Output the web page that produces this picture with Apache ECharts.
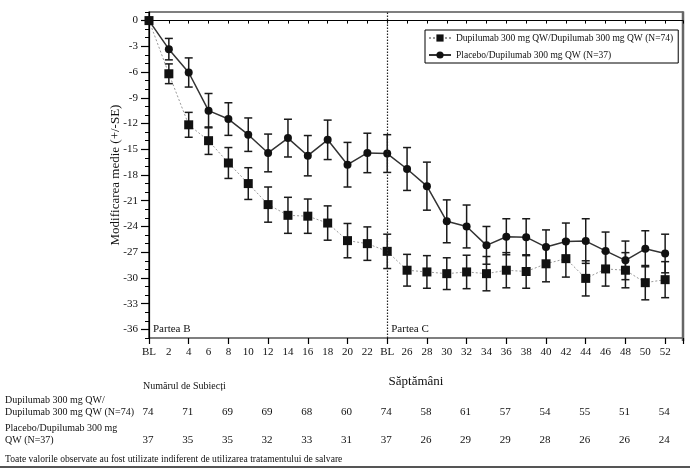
<!DOCTYPE html>
<html>
<head>
<meta charset="utf-8">
<script src="https://cdn.jsdelivr.net/npm/echarts@6/dist/echarts.min.js"></script>
<style>
html,body{margin:0;padding:0;background:#fff;}
#c{width:695px;height:472px;}
</style>
</head>
<body>
<div id="c"></div>
<script>
// ---- data ----
var weekLabels = ['BL','2','4','6','8','10','12','14','16','18','20','22','BL','26','28','30','32','34','36','38','40','42','44','46','48','50','52'];
var yTickLabels = ['0','-3','-6','-9','-12','-15','-18','-21','-24','-27','-30','-33','-36'];
var dupiName = 'Dupilumab 300 mg QW/Dupilumab 300 mg QW (N=74)';
var placName = 'Placebo/Dupilumab 300 mg QW (N=37)';
var dupiMean = [0, -6.2, -12.15, -14.0, -16.6, -19.0, -21.45, -22.7, -22.8, -23.6, -25.65, -26.0, -26.9, -29.1, -29.3, -29.5, -29.3, -29.5, -29.1, -29.25, -28.35, -27.75, -30.05, -28.95, -29.1, -30.55, -30.2];
var dupiSE   = [0, 1.15, 1.45, 1.6, 1.8, 1.85, 2.05, 2.1, 2.0, 2.0, 2.0, 1.95, 2.0, 1.85, 1.9, 1.85, 1.95, 2.0, 2.05, 1.95, 2.1, 2.15, 2.05, 2.0, 2.05, 2.0, 2.1];
var placMean = [0, -3.33, -6.05, -10.5, -11.48, -13.3, -15.43, -13.7, -15.75, -13.9, -16.8, -15.43, -15.5, -17.3, -19.3, -23.4, -24.0, -26.2, -25.2, -25.25, -26.4, -25.75, -25.7, -26.85, -27.95, -26.6, -27.15];
var placSE   = [0, 1.25, 1.7, 2.0, 1.9, 1.95, 2.2, 2.2, 2.35, 2.3, 2.6, 2.3, 2.2, 2.5, 2.8, 2.5, 2.5, 2.2, 2.1, 2.15, 2.0, 2.15, 2.6, 2.2, 2.25, 2.1, 2.25];
var countIdx  = [0, 2, 4, 6, 8, 10, 12, 14, 16, 18, 20, 22, 24, 26];
var dupiCount = [74, 71, 69, 69, 68, 60, 74, 58, 61, 57, 54, 55, 51, 54];
var placCount = [37, 35, 35, 32, 33, 31, 37, 26, 29, 29, 28, 26, 26, 24];
var partLabels = ['Partea B', 'Partea C'];
var partIdx = [0, 12];
var xTitle = 'Săptămâni';
var yTitle = 'Modificarea medie (+/-SE)';
var tableTitle = 'Numărul de Subiecți';
var rowLabels = [['Dupilumab 300 mg QW/', 'Dupilumab 300 mg QW (N=74)'], ['Placebo/Dupilumab 300 mg', 'QW (N=37)']];
var footnote = 'Toate valorile observate au fost utilizate indiferent de utilizarea tratamentului de salvare';

// ---- build ----
var FONT = '"Liberation Serif", "Times New Roman", serif';
var Y_MIN = -37, Y_MAX = 1, X_MAX = 26.9;
function pts(mean){ return mean.map(function(v,i){ return [i, v]; }); }
function errs(mean, se){ var out=[]; mean.forEach(function(v,i){ if(se[i]>0) out.push([i, v-se[i], v+se[i]]); }); return out; }
function errRender(params, api){
  var x = api.value(0), lo = api.value(1), hi = api.value(2);
  var p1 = api.coord([x, hi]), p2 = api.coord([x, lo]);
  var w = 4, st = {stroke:'#1a1a1a', lineWidth:1.5};
  return {type:'group', children:[
    {type:'line', shape:{x1:p1[0], y1:p1[1], x2:p2[0], y2:p2[1]}, style:st},
    {type:'line', shape:{x1:p1[0]-w, y1:p1[1], x2:p1[0]+w, y2:p1[1]}, style:st},
    {type:'line', shape:{x1:p2[0]-w, y1:p2[1], x2:p2[0]+w, y2:p2[1]}, style:st}
  ]};
}
// y label categories: one per unit from bottom (Y_MIN) to top (Y_MAX)
var yCats = [];
for (var v = Y_MIN; v <= Y_MAX; v++) {
  yCats.push((v <= 0 && v % 3 === 0) ? yTickLabels[-v/3] : '');
}

var chart = echarts.init(document.getElementById('c'), null, {renderer:'canvas'});
var option = {
  animation:false,
  backgroundColor:'#fff',
  textStyle:{fontFamily:FONT},
  grid:{left:149, top:12, width:534, height:326, show:true, borderColor:'#000', borderWidth:1.2, backgroundColor:'transparent'},
  legend:{
    orient:'vertical', left:425, top:30, padding:[3,5,3,3], itemGap:7,
    itemWidth:22, itemHeight:9, borderColor:'#000', borderWidth:1,
    textStyle:{fontFamily:FONT, fontSize:9.5, color:'#111'},
    data:[dupiName, placName]
  },
  xAxis:[{
    type:'value', min:0, max:X_MAX, interval:1,
    name:xTitle, nameLocation:'middle', nameGap:37,
    nameTextStyle:{fontFamily:FONT, fontSize:13, color:'#111'},
    axisLine:{lineStyle:{color:'#000', width:1.2}},
    axisTick:{length:3, lineStyle:{color:'#000'}},
    axisLabel:{fontFamily:FONT, fontSize:11, color:'#111', margin:9,
      formatter:function(v){ return (Math.abs(v-Math.round(v))<1e-6 && weekLabels[Math.round(v)]!==undefined) ? weekLabels[Math.round(v)] : ''; }},
    splitLine:{show:false}
  },{
    type:'value', min:0, max:X_MAX, interval:2, position:'bottom',
    axisLine:{show:false}, axisTick:{length:6, lineStyle:{color:'#000', width:1.2}},
    axisLabel:{show:false}, splitLine:{show:false}
  }],
  yAxis:[{
    type:'value', min:Y_MIN, max:Y_MAX, interval:1,
    name:yTitle, nameLocation:'middle', nameGap:27, nameRotate:90,
    nameTextStyle:{fontFamily:FONT, fontSize:13, color:'#111'},
    axisLine:{show:true, lineStyle:{color:'#000', width:1.2}},
    axisTick:{show:true, length:4, lineStyle:{color:'#000', width:1}},
    axisLabel:{show:false},
    splitLine:{show:false}
  },{
    type:'category', data:yCats, boundaryGap:false, position:'left',
    axisLine:{show:false},
    axisTick:{show:true, length:8, interval:function(i, val){ return val !== ''; }, lineStyle:{color:'#000', width:1.2}},
    axisLabel:{interval:0, fontFamily:FONT, fontSize:11, color:'#111', margin:11},
    splitLine:{show:false}
  }],
  series:[
    {type:'custom', name:'errDupi', renderItem:errRender, data:errs(dupiMean, dupiSE), encode:{x:0, y:[1,2]}, z:2, silent:true},
    {type:'custom', name:'errPlac', renderItem:errRender, data:errs(placMean, placSE), encode:{x:0, y:[1,2]}, z:2, silent:true},
    {type:'line', name:dupiName, data:pts(dupiMean), symbol:'rect', symbolSize:9, showSymbol:true, z:4,
      itemStyle:{color:'#111'}, lineStyle:{color:'#9a9a9a', width:1, type:[2,2]},
      markLine:{silent:true, symbol:'none', label:{show:false},
        lineStyle:{color:'#222', type:[1.5,1.5], width:1.2},
        data:[{xAxis:partIdx[1]}]}},
    {type:'line', name:placName, data:pts(placMean), symbol:'circle', symbolSize:8, showSymbol:true, z:3,
      itemStyle:{color:'#111'}, lineStyle:{color:'#333', width:1.5}}
  ]
};
chart.setOption(option);

// annotations and table placed via axis scale
function px(i, v){ return chart.convertToPixel({xAxisIndex:0, yAxisIndex:0}, [i, v]); }
var g = [];
partLabels.forEach(function(t, k){
  var p = px(partIdx[k], -36);
  g.push({type:'text', x:p[0]+4, y:p[1], style:{text:t, font:'11px '+FONT, fill:'#111', textVerticalAlign:'middle'}});
});
var right = px(X_MAX, Y_MAX), bot = px(X_MAX, Y_MIN);
g.push({type:'line', shape:{x1:right[0], y1:right[1]-0.5, x2:bot[0], y2:bot[1]+3}, style:{stroke:'#666', lineWidth:2.5}});
g.push({type:'text', x:143, y:386, style:{text:tableTitle, font:'10px '+FONT, fill:'#111', textVerticalAlign:'middle'}});
g.push({type:'text', x:5, y:400, style:{text:rowLabels[0][0], font:'10px '+FONT, fill:'#111', textVerticalAlign:'middle'}});
g.push({type:'text', x:5, y:412, style:{text:rowLabels[0][1], font:'10px '+FONT, fill:'#111', textVerticalAlign:'middle'}});
g.push({type:'text', x:5, y:428, style:{text:rowLabels[1][0], font:'10px '+FONT, fill:'#111', textVerticalAlign:'middle'}});
g.push({type:'text', x:5, y:440, style:{text:rowLabels[1][1], font:'10px '+FONT, fill:'#111', textVerticalAlign:'middle'}});
countIdx.forEach(function(i, k){
  var p = px(i, 0);
  g.push({type:'text', x:p[0]-1, y:412, style:{text:String(dupiCount[k]), font:'11px '+FONT, fill:'#111', textAlign:'center', textVerticalAlign:'middle'}});
  g.push({type:'text', x:p[0]-1, y:440, style:{text:String(placCount[k]), font:'11px '+FONT, fill:'#111', textAlign:'center', textVerticalAlign:'middle'}});
});
g.push({type:'text', x:5, y:459, style:{text:footnote, font:'9.6px '+FONT, fill:'#111', textVerticalAlign:'middle'}});
g.push({type:'line', shape:{x1:0, y1:467, x2:690, y2:467}, style:{stroke:'#555', lineWidth:2}});
chart.setOption({graphic:g});
</script>
</body>
</html>
